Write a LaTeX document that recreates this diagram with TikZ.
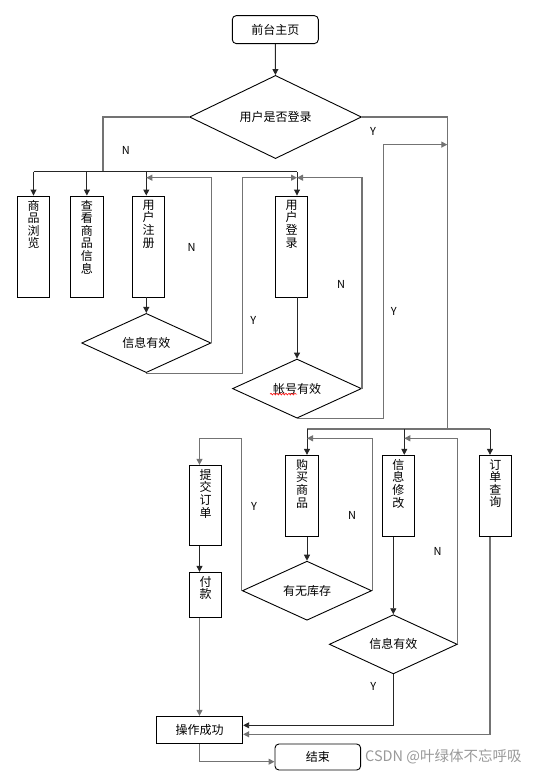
\documentclass[tikz,border=0pt]{standalone}
\usepackage{fontspec}
\setmainfont{Noto Sans CJK SC}
\usepackage{xcolor}
\usepackage{tikz}
\usetikzlibrary{arrows.meta,shapes.geometric,calc,decorations.pathmorphing}

\newcommand{\colstack}[2]{\parbox[t][#1][t]{16pt}{\centering #2}}

\tikzset{
  flowbox/.style={draw=black, line width=0.9pt, inner xsep=0pt, inner ysep=4pt, font=\fontsize{12}{12.6}\selectfont},
  termbox/.style={draw=black, line width=0.9pt, rounded corners=4pt, inner sep=0pt, font=\fontsize{12}{14}\selectfont},
  decide/.style={draw=black, line width=0.9pt, diamond, inner sep=0pt, font=\fontsize{12}{14}\selectfont},
  arr/.style={draw=black!85, line width=0.9pt, -{Triangle[length=6pt,width=6pt]}},
  wire/.style={draw=black!55, line width=1.1pt},
  back/.style={wire, -{Triangle[length=6pt,width=6pt]}},
  yn/.style={font=\fontsize{11}{12}\selectfont, inner sep=0pt},
}

\begin{document}
\begin{tikzpicture}[x=1pt,y=1pt,yscale=-1]
\useasboundingbox (0,0) rectangle (533,776);

% Text Node
\node[termbox, minimum width=86pt, minimum height=28pt] (home) at (275.3,29.6) {前台主页};
% Text Node
\node[decide, minimum width=172pt, minimum height=54pt] (islogin) at (275.5,117) {用户是否登录};
% Text Node
\node[flowbox, minimum width=32.4pt] (browse) at (33.5,246.5) {\colstack{93pt}{商\\品\\浏\\览}};
\node[flowbox, minimum width=33pt] (detail) at (86.9,246.5) {\colstack{93pt}{查\\看\\商\\品\\信\\息}};
\node[flowbox, minimum width=32.3pt] (register) at (148.5,246.5) {\colstack{93pt}{用\\户\\注\\册}};
\node[flowbox, minimum width=32.3pt] (signin) at (291.7,246.5) {\colstack{93pt}{用\\户\\登\\录}};
% Text Node
\node[decide, minimum width=129.3pt, minimum height=54.4pt] (regok) at (146.3,343) {信息有效};
\node[decide, minimum width=129pt, minimum height=54pt] (acctok) at (297,388.6) {帐号有效};
% Text Node
\node[flowbox, minimum width=33.4pt] (buy) at (302,495.8) {\colstack{73pt}{购\\买\\商\\品}};
\node[flowbox, minimum width=32pt] (modify) at (398.3,495.8) {\colstack{73pt}{信\\息\\修\\改}};
\node[flowbox, minimum width=32pt] (orders) at (495.3,495.8) {\colstack{73pt}{订\\单\\查\\询}};
\node[flowbox, minimum width=32.4pt] (submit) at (205.5,505.3) {\colstack{72pt}{提\\交\\订\\单}};
\node[flowbox, minimum width=32.4pt] (pay) at (205.5,594.8) {\colstack{37pt}{付\\款}};
% Text Node
\node[decide, minimum width=129.3pt, minimum height=53.3pt] (stock) at (307,590.7) {有无库存};
\node[decide, minimum width=128pt, minimum height=52.7pt] (modok) at (393.3,644.3) {信息有效};
% Text Node
\node[flowbox, minimum width=86.4pt, minimum height=27pt] (done) at (199.5,729.8) {操作成功};
\node[termbox, minimum width=85.7pt, minimum height=26pt] (finish) at (317.8,757) {结束};

%Corners of the long lines
\coordinate (busN) at (103,171.8);
\coordinate (busY) at (447.3,429);
\coordinate (loopA) at (0,177.7);
\coordinate (loopB) at (0,438.3);
\coordinate (jumpA) at (242.9,177.7);
\coordinate (jumpB) at (383.3,144.6);
\coordinate (modIn) at ($(modify.north)+(6,0)$);
\coordinate (ordIn) at ($(orders.north)+(-5.3,0)$);
\coordinate (ordOut) at ($(orders.south)+(-5.3,0)$);

%Straight Lines
\draw[arr] (home) -- (islogin);
\draw[wire] (islogin.west) -| (busN);
\draw[wire, draw=black!85] (browse.north |- busN) -- (busN -| acctok.north);
\draw[arr] (browse.north |- busN) -- (browse.north);
\draw[arr] (detail.north |- busN) -- (detail.north);
\draw[arr] (regok.north |- busN) -- (regok.north |- register.north);
\draw[arr] (acctok.north |- busN) -- (acctok.north |- signin.north);
\draw[arr] (regok.north |- register.south) -- (regok.north);
\draw[back] (regok.east) |- (regok.north |- loopA);
\draw[back] (regok.south) -| (jumpA) -- (jumpA -| acctok.north);
\draw[arr] (acctok.north |- signin.south) -- (acctok.north);
\draw[back] (acctok.east) |- (acctok.north |- loopA);
\draw[back] (acctok.south) -| (jumpB) -- (jumpB -| busY);
\draw[wire] (islogin.east) -| (busY);

%Straight Lines
\draw[wire] (stock.north |- busY) -- (ordIn |- busY);
\draw[arr] (stock.north |- busY) -- (stock.north |- buy.north);
\draw[arr] (modIn |- busY) -- (modIn);
\draw[arr] (ordIn |- busY) -- (ordIn);
\draw[arr] (stock.north |- buy.south) -- (stock.north);
\draw[back] (stock.west) |- (done.north |- loopB) -- (done.north |- submit.north);
\draw[back] (stock.east) |- (stock.north |- loopB);
\draw[arr] (done.north |- submit.south) -- (done.north |- pay.north);
\draw[back] (done.north |- pay.south) -- (done.north);
\draw[arr] (modok.north |- modify.south) -- (modok.north);
\draw[back] (modok.east) |- (modIn |- loopB);
\draw[arr] (modok.south) |- ($(done.east)+(0,-4.5)$);
\draw[back] (ordOut) |- ($(done.east)+(0,4.5)$);
\draw[back] (done.south) |- ($(finish.west)+(0,4.7)$);

% Text Node
\node[yn] (nTop) at (125.9,150) {N};
\node[yn] (yTop) at (373,131) {Y};
\node[yn] (nReg) at (191.5,247.8) {N};
\node[yn] (yReg) at (253.4,320.9) {Y};
\node[yn] (nAcct) at (341.2,284.5) {N};
\node[yn] (yAcct) at (393.9,311.7) {Y};
\node[yn] (yStock) at (254,506) {Y};
\node[yn] (nStock) at (352,515) {N};
\node[yn] (nMod) at (437.7,551) {N};
\node[yn] (yMod) at (373.3,686) {Y};

%spell mark
\draw[red, line width=0.6pt, decorate, decoration={snake, amplitude=0.8pt, segment length=3pt}] ($(acctok)+(-27,5.5)$) -- ($(acctok)+(0,5.5)$);

% Text Node
\node[anchor=west, inner sep=0pt, text=black!40, font=\fontsize{14.5}{16}\selectfont] (mark) at (365,757) {CSDN @叶绿体不忘呼吸};

\end{tikzpicture}
\end{document}
